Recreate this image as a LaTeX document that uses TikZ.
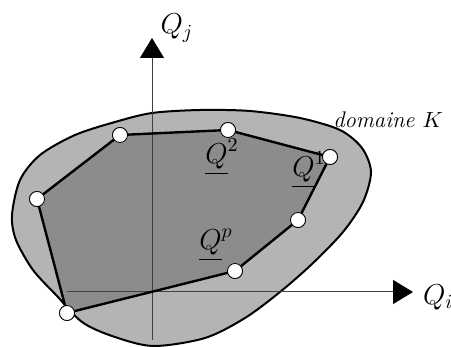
\documentclass[tikz,border=0pt]{standalone}
\usepackage{amsmath, amssymb}
\usetikzlibrary{arrows.meta}
\definecolor{lightgrey}{RGB}{180,180,180}
\definecolor{darkgrey}{RGB}{140,140,140}

\begin{document}
\begin{tikzpicture}[
          x=0.5pt, y=-0.5pt,
          vertex/.style={circle, draw, fill=white, line width=0.4pt, minimum size=7.5pt, inner sep=0pt},
          edge/.style={line width=1.2pt, line join=round},
          axis/.style={-{Triangle[length=10pt, width=12pt, color=black]}, line width=0.5pt, draw=black!75},
          label/.style={font=\Large}
        ]
          \useasboundingbox (0,0) rectangle (451,347);

          % Domain K
          \draw[fill=lightgrey, line width=1pt] plot[smooth cycle, tension=0.5] coordinates {
            (12,215) (20,180) (40,155) (75,135) (115,122) (152,113) (200,110)
            (250,111) (300,118) (340,130) (362,148) (371,172) (363,202)
            (343,232) (312,264) (280,292) (245,318) (205,338) (153,346)
            (112,336) (82,322) (57,296) (33,270) (16,240)};

          % Vertices
          \node[vertex] (a) at (120,135) {};
          \node[vertex] (b) at (228,130) {};
          \node[vertex] (c) at (330,157) {};
          \node[vertex] (d) at (298,220) {};
          \node[vertex] (e) at (235,271) {};
          \node[vertex] (f) at (67,313) {};
          \node[vertex] (g) at (37,199) {};

          % Polygon
          \fill[darkgrey] (f.center) -- (g.center) -- (a.center) -- (b.center)
            -- (c.center) -- (d.center) -- (e.center) -- cycle;

          % Axes
          \coordinate (xstart) at (67,292);
          \coordinate (xend) at (413,292);
          \coordinate (ystart) at (152,340);
          \coordinate (yend) at (152,38);
          \draw[axis] (xstart) -- (xend);
          \draw[axis] (ystart) -- (yend);
          \node[label, anchor=west] (qi) at (416,297) {$Q_i$};
          \node[label] (qj) at (177,28) {$Q_j$};

          % Edges
          \draw[edge] (f.center) -- (g.center) -- (a.center) -- (b.center)
            -- (c.center) -- (d.center) -- (e.center) -- cycle;
          \foreach \v in {a,b,c,d,e,f,g}
            \node[vertex] at (\v) {};

          % Labels
          \node[label] (q2) at (222,157) {$\underline{Q}^2$};
          \node[label] (q1) at (309,170) {$\underline{Q}^1$};
          \node[label] (qp) at (216,245) {$\underline{Q}^p$};
          \node[font=\fontsize{11.3}{13}\selectfont\itshape] (dom) at (388,120) {domaine $K$};
        \end{tikzpicture}
\end{document}
